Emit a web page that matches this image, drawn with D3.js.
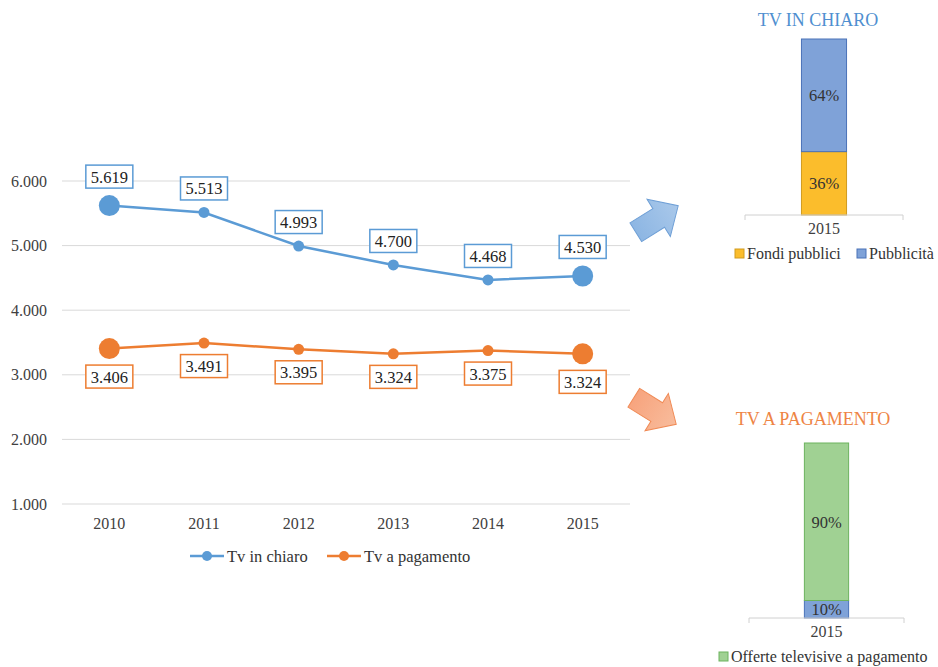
<!DOCTYPE html>
<html>
  <head>
    <meta charset="utf-8">
    <title>Tv in chiaro e Tv a pagamento</title>
    <script src="https://d3js.org/d3.v7.min.js"></script>
    <style>
      body { margin: 0; background: #fff; }
      svg { font-family: "Liberation Serif", "Times New Roman", serif; }
      .grid line { stroke: #d9d9d9; stroke-width: 1; }
    </style>
  </head>
  <body>
    <svg id="chart" width="938" height="667"></svg>
    <script>
      // data
      const years = ["2010", "2011", "2012", "2013", "2014", "2015"];
      const tvChiaro = [5619, 5513, 4993, 4700, 4468, 4530];
      const tvPagamento = [3406, 3491, 3395, 3324, 3375, 3324];
      const yTicks = [1000, 2000, 3000, 4000, 5000, 6000];
      const seriesNames = ["Tv in chiaro", "Tv a pagamento"];
      const chiaroShares = [0.36, 0.64];
      const chiaroNames = ["Fondi pubblici", "Pubblicità"];
      const pagamentoShares = [0.10, 0.90];
      const pagamentoNames = ["", "Offerte televisive a pagamento"];

      const blue = "#5B9BD5", orange = "#ED7D31";
      const it = d3.formatLocale({ decimal: ",", thousands: ".", grouping: [3], currency: ["€", ""] });
      const fmt = it.format(",");

      const svg = d3.select("#chart");

      // line chart scales
      const x = d3.scalePoint().domain(years).range([62, 630]).padding(0.5);
      const y = d3.scaleLinear().domain([1000, 6000]).range([504, 181]);

      // gridlines + axis labels
      const grid = svg.append("g").attr("class", "grid");
      grid.selectAll("line")
        .data(yTicks)
        .enter().append("line")
          .attr("x1", 62).attr("x2", 630)
          .attr("y1", d => y(d)).attr("y2", d => y(d));
      svg.append("g").selectAll("text")
        .data(yTicks)
        .enter().append("text")
          .attr("x", 47)
          .attr("y", d => y(d) + 5.5)
          .attr("text-anchor", "end")
          .style("font-size", "16px")
          .style("fill", "#404040")
          .text(d => fmt(d));
      svg.append("g").selectAll("text")
        .data(years)
        .enter().append("text")
          .attr("x", d => x(d))
          .attr("y", 529)
          .attr("text-anchor", "middle")
          .style("font-size", "16px")
          .style("fill", "#404040")
          .text(d => d);

      const line = d3.line().x((d, i) => x(years[i])).y(d => y(d));

      function drawSeries(values, color, above) {
        const g = svg.append("g");
        g.append("path")
          .datum(values)
          .attr("d", line)
          .attr("fill", "none")
          .attr("stroke", color)
          .attr("stroke-width", 2.5);
        const last = values.length - 1;
        const rad = i => (i === 0 || i === last) ? 10.5 : 5.5;
        g.selectAll("circle")
          .data(values)
          .enter().append("circle")
            .attr("cx", (d, i) => x(years[i]))
            .attr("cy", d => y(d))
            .attr("r", (d, i) => rad(i))
            .attr("fill", color);
        // boxed data labels
        const lab = g.selectAll(".lab")
          .data(values)
          .enter().append("g")
            .attr("class", "lab")
            .attr("transform", (d, i) => {
              const cy = above ? y(d) - rad(i) - 7 - 11.5 : y(d) + rad(i) + 6 + 11.5;
              return "translate(" + x(years[i]) + "," + cy + ")";
            });
        lab.append("rect")
          .attr("x", -23.5).attr("y", -11.5)
          .attr("width", 47).attr("height", 23)
          .attr("fill", "#fff")
          .attr("stroke", color)
          .attr("stroke-width", 1.5);
        lab.append("text")
          .attr("text-anchor", "middle")
          .attr("y", 6)
          .style("font-size", "16.5px")
          .style("fill", "#222")
          .text(d => fmt(d));
      }
      drawSeries(tvChiaro, blue, true);
      drawSeries(tvPagamento, orange, false);

      // legend of line chart
      const legend = svg.append("g").attr("transform", "translate(190,556)");
      [0, 1].forEach(i => {
        const lg = legend.append("g").attr("transform", "translate(" + (i * 137) + ",0)");
        lg.append("line").attr("x1", 0).attr("x2", 34).attr("stroke", i ? orange : blue).attr("stroke-width", 2.5);
        lg.append("circle").attr("cx", 17).attr("r", 5).attr("fill", i ? orange : blue);
        lg.append("text").attr("x", 37).attr("y", 5.5).style("font-size", "16.5px").style("fill", "#333").text(seriesNames[i]);
      });

      // arrows
      const defs = svg.append("defs");
      function grad(id, c1, c2) {
        const gr = defs.append("linearGradient").attr("id", id)
          .attr("x1", "0").attr("y1", "0").attr("x2", "1").attr("y2", "0");
        gr.append("stop").attr("offset", "0").attr("stop-color", c1);
        gr.append("stop").attr("offset", "1").attr("stop-color", c2);
      }
      grad("gBlue", "#8DB6E3", "#A9C8EA");
      grad("gOrange", "#F7A47E", "#F8BC9C");
      const arrowShape = [[-25, -11], [2, -11], [2, -22], [25, 0], [2, 22], [2, 11], [-25, 11]];
      function arrow(cx, cy, angle, fill, stroke) {
        svg.append("path")
          .attr("d", d3.line()(arrowShape) + "Z")
          .attr("transform", "translate(" + cx + "," + cy + ") rotate(" + angle + ")")
          .attr("fill", "url(#" + fill + ")")
          .attr("stroke", stroke)
          .attr("stroke-width", 1);
      }
      arrow(657, 219, -32, "gBlue", "#6E9FD6");
      arrow(655, 411, 32, "gOrange", "#F08A55");

      // stacked share bars
      const segColors = {
        "Fondi pubblici": ["#FBBD2C", "#D19B1F"],
        "Pubblicità": ["#7FA2D8", "#4A72B8"],
        "": ["#7FA2D8", "#4A72B8"],
        "Offerte televisive a pagamento": ["#A0D193", "#6DB35E"]
      };
      const pct = d3.format(".0%");

      function shareBar(opts) {
        const bx = d3.scaleBand().domain(["2015"]).range([opts.x0, opts.x1]).padding(0.556);
        const by = d3.scaleLinear().domain([0, 1]).range([opts.bottom, opts.top]);
        const g = svg.append("g");
        g.append("text")
          .attr("x", opts.titleX).attr("y", opts.titleY)
          .attr("text-anchor", "middle")
          .style("font-size", "18px")
          .style("fill", opts.titleColor)
          .text(opts.title);
        let acc = 0;
        opts.shares.forEach((s, i) => {
          const c = segColors[opts.names[i]];
          g.append("rect")
            .attr("x", bx("2015"))
            .attr("y", by(acc + s))
            .attr("width", bx.bandwidth())
            .attr("height", by(acc) - by(acc + s))
            .attr("fill", c[0])
            .attr("stroke", c[1])
            .attr("stroke-width", 1);
          g.append("text")
            .attr("x", bx("2015") + bx.bandwidth() / 2)
            .attr("y", (by(acc) + by(acc + s)) / 2 + 6)
            .attr("text-anchor", "middle")
            .style("font-size", "16.5px")
            .style("fill", "#333")
            .text(pct(s));
          acc += s;
        });
        // category axis
        const ax = g.append("g").attr("transform", "translate(0," + opts.bottom + ")")
          .call(d3.axisBottom(bx).tickSize(0).tickPadding(8));
        ax.select(".domain").attr("stroke", "#d0d0d0").attr("d", "M" + opts.x0 + ",5V0H" + opts.x1 + "V5");
        ax.selectAll("text").style("font-size", "16px").style("font-family", "Liberation Serif, serif").style("fill", "#404040");
        // legend
        opts.legend.forEach(l => {
          const c = segColors[l.name];
          g.append("rect").attr("x", l.x).attr("y", opts.legendY - 5).attr("width", 9).attr("height", 9)
            .attr("fill", c[0]).attr("stroke", c[1]);
          g.append("text").attr("x", l.x + 12).attr("y", opts.legendY + 5)
            .style("font-size", "16px").style("fill", "#333").text(l.name);
        });
      }

      shareBar({
        title: "TV IN CHIARO", titleX: 818, titleY: 26, titleColor: "#4F8FD0",
        x0: 745, x1: 903, top: 39, bottom: 215,
        shares: chiaroShares, names: chiaroNames,
        legendY: 254, legend: [{ name: chiaroNames[0], x: 735 }, { name: chiaroNames[1], x: 857 }]
      });
      shareBar({
        title: "TV A PAGAMENTO", titleX: 813, titleY: 425, titleColor: "#EE8444",
        x0: 749, x1: 904, top: 443, bottom: 618,
        shares: pagamentoShares, names: pagamentoNames,
        legendY: 657, legend: [{ name: pagamentoNames[1], x: 719 }]
      });
    </script>
  </body>
</html>
